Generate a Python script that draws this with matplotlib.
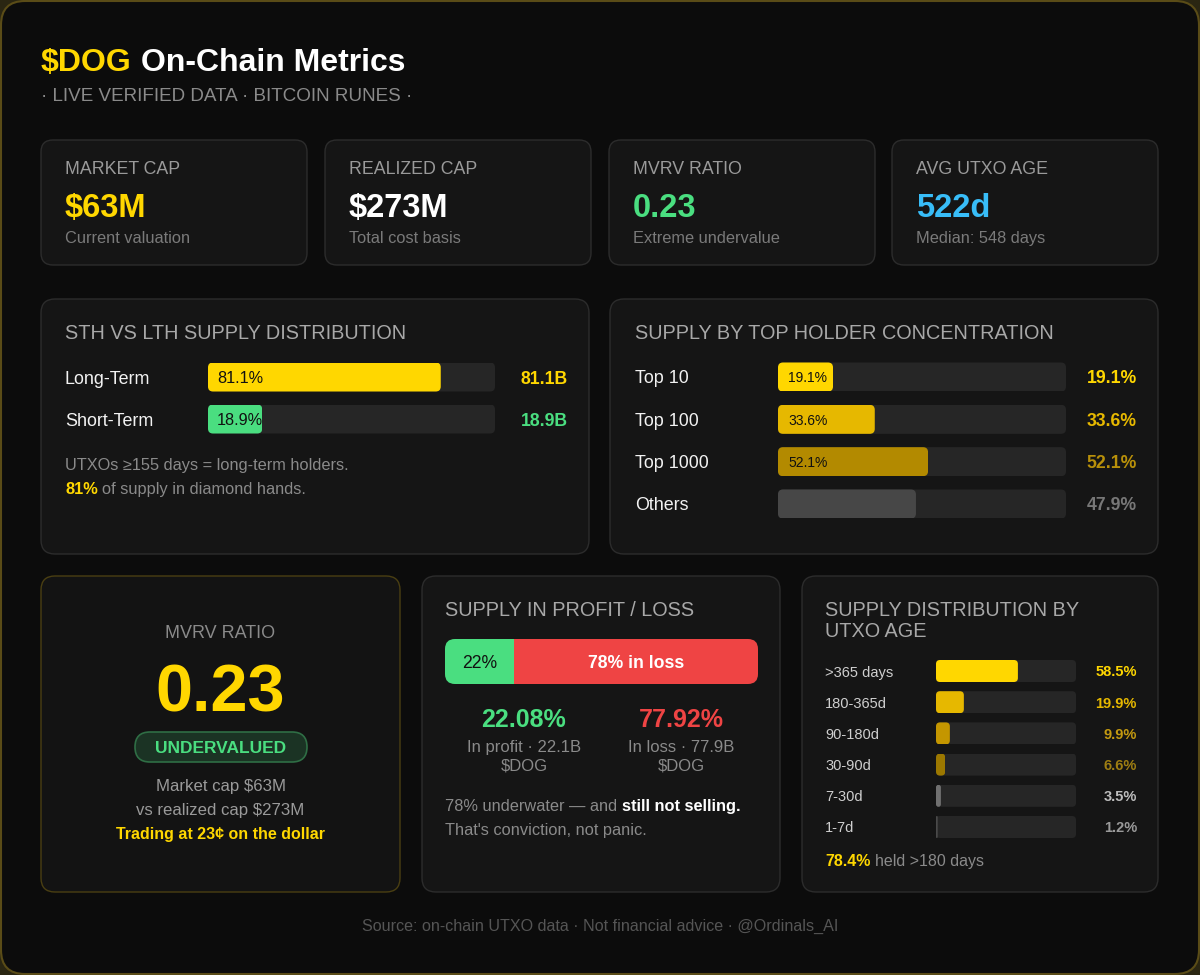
import matplotlib
matplotlib.use("Agg")
import matplotlib.pyplot as plt
from matplotlib.patches import FancyBboxPatch
import matplotlib.transforms as mtransforms

# ---------------- data ----------------
kpi_labels = ["MARKET CAP", "REALIZED CAP", "MVRV RATIO", "AVG UTXO AGE"]
kpi_values = ["$63M", "$273M", "0.23", "522d"]
kpi_notes = ["Current valuation", "Total cost basis", "Extreme undervalue", "Median: 548 days"]

holder_terms = ["Long-Term", "Short-Term"]
holder_pct = [81.1, 18.9]
holder_supply_b = [81.1, 18.9]

top_groups = ["Top 10", "Top 100", "Top 1000", "Others"]
top_pct = [19.1, 33.6, 52.1, 47.9]

profit_pct = 22.08
loss_pct = 77.92
profit_supply_b = 22.1
loss_supply_b = 77.9

age_buckets = [">365 days", "180-365d", "90-180d", "30-90d", "7-30d", "1-7d"]
age_pct = [58.5, 19.9, 9.9, 6.6, 3.5, 1.2]

mvrv = 0.23
market_cap_m = 63
realized_cap_m = 273
held_over_180 = 78.4

# ---------------- style ----------------
GOLD = "#FFD700"
GOLD2 = "#E6B800"
GOLD3 = "#B38A00"
GREEN = "#4ADE80"
RED = "#EF4444"
BLUE = "#38BDF8"
CARD = "#151515"
EDGE = "#2c2c2c"
TRACK = "#262626"
HEAD = 14.3

plt.rcParams['font.family'] = ['Liberation Sans', 'DejaVu Sans']

W, H = 1200, 975
fig = plt.figure(figsize=(12, 9.75), dpi=100, facecolor="#2a2612")
bg = fig.add_axes([0, 0, 1, 1])
bg.set_xlim(0, W)
bg.set_ylim(H, 0)
bg.axis('off')
renderer = fig.canvas.get_renderer()


def box(x0, y0, x1, y1, fc, ec, r=12, lw=1.0):
    p = FancyBboxPatch((x0, y0), x1 - x0, y1 - y0,
                       boxstyle=f"round,pad=0,rounding_size={r}",
                       fc=fc, ec=ec, lw=lw)
    bg.add_patch(p)
    return p


def base(yc, size):
    # baseline from visual cap centre
    return yc + 0.358 * size * 100 / 72


def txt(x, yc, s, size, color, weight='normal', ha='left'):
    return bg.text(x, base(yc, size), s, fontsize=size, color=color,
                   fontweight=weight, ha=ha, va='baseline')


def space_w(size, weight):
    a = bg.text(0, 0, "a a", fontsize=size, fontweight=weight)
    b = bg.text(0, 0, "aa", fontsize=size, fontweight=weight)
    w = a.get_window_extent(renderer).width - b.get_window_extent(renderer).width
    a.remove(); b.remove()
    return w


def rich(x, yc, parts, ha='left'):
    objs = []
    total = 0
    for s, size, color, weight in parts:
        lead = len(s) - len(s.lstrip(' '))
        gap = lead * space_w(size, weight) if lead else 0
        t = bg.text(0, base(yc, size), s.strip(' '), fontsize=size, color=color,
                    fontweight=weight, ha='left', va='baseline')
        w = t.get_window_extent(renderer).width
        objs.append((t, gap, w))
        total += gap + w
    cur = x if ha == 'left' else x - total / 2
    for t, gap, w in objs:
        cur += gap
        t.set_x(cur)
        cur += w


def bar_axes(x0, x1, ytop, ybot, n):
    ax = fig.add_axes([x0 / W, 1 - ybot / H, (x1 - x0) / W, (ybot - ytop) / H])
    ax.set_xlim(0, 100)
    ax.set_ylim(n - 0.5, -0.5)
    ax.axis('off')
    ax.patch.set_visible(False)
    return ax


def round_clip(ax, bars, r_px):
    pos = ax.get_position()
    wpx, hpx = pos.width * W, pos.height * H
    xl, yl = ax.get_xlim(), ax.get_ylim()
    ux = abs(xl[1] - xl[0]) / wpx
    uy = abs(yl[1] - yl[0]) / hpx
    for b in bars:
        x, y = b.get_xy()
        w, h = b.get_width(), b.get_height()
        r = min(r_px, w / ux / 2, abs(h) / uy / 2)
        clip = FancyBboxPatch((x, y), w, h,
                              boxstyle=f"round,pad=0,rounding_size={r * ux}",
                              mutation_aspect=uy / ux, transform=ax.transData)
        b.set_clip_path(clip)


def blend(ax):
    return mtransforms.blended_transform_factory(bg.transData, ax.transData)


# ---------------- frame ----------------
box(1, 1, W - 1, H - 1, "#0c0c0c", "#5a4c17", r=24, lw=1.5)

rich(41, 59.5, [("$DOG", 23, GOLD, 'bold'), (" On-Chain Metrics", 23, "white", 'bold')])
txt(41, 94.5, "· LIVE VERIFIED DATA · BITCOIN RUNES ·", 13.6, "#8a8a8a")

# ---------------- KPI cards ----------------
card_x = [(41, 307), (325, 591), (609, 875), (892, 1158)]
kpi_colors = [GOLD, "white", GREEN, BLUE]
for (x0, x1), lab, val, note, col in zip(card_x, kpi_labels, kpi_values, kpi_notes, kpi_colors):
    box(x0, 140, x1, 265, CARD, EDGE, r=12)
    txt(x0 + 24, 168, lab, 12.8, "#9a9a9a")
    txt(x0 + 24, 205, val, 23.5, col, 'bold')
    txt(x0 + 24, 237, note, 11.8, "#7a7a7a")

# ---------------- STH vs LTH ----------------
box(41, 299, 589, 554, CARD, EDGE, r=14)
txt(65, 332, "STH VS LTH SUPPLY DISTRIBUTION", HEAD, "#a8a8a8")
ax1 = bar_axes(208, 495, 356, 440, len(holder_terms))
ys = list(range(len(holder_terms)))
hh = 29 / 42
tr = ax1.barh(ys, [100] * len(ys), height=hh, color=TRACK, zorder=1)
round_clip(ax1, tr, 5)
hcols = [GOLD, GREEN]
bars = ax1.barh(ys, holder_pct, height=hh, color=hcols, zorder=2)
round_clip(ax1, bars, 5)
for i, (name, p, b, c) in enumerate(zip(holder_terms, holder_pct, holder_supply_b, hcols)):
    ax1.annotate(f"{p}%", (0, i), xytext=(9 * 0.72, 0), textcoords='offset points',
                 va='center_baseline', ha='left', fontsize=11.7, color="#111111", zorder=3)
    ax1.text(65, i, name, transform=blend(ax1), va='center_baseline', ha='left',
             fontsize=12.9, color="#f2f2f2")
    ax1.text(568, i, f"{b}B", transform=blend(ax1), va='center_baseline', ha='right',
             fontsize=12.7, color=c, fontweight='bold')
txt(65, 464, "UTXOs ≥155 days = long-term holders.", 11.8, "#8a8a8a")
rich(65, 488, [(f"{round(holder_pct[0])}%", 11.8, GOLD, 'bold'),
               (" of supply in diamond hands.", 11.8, "#8a8a8a", 'normal')])

# ---------------- Top holders ----------------
box(610, 299, 1158, 554, CARD, EDGE, r=14)
txt(635, 332, "SUPPLY BY TOP HOLDER CONCENTRATION", HEAD, "#a8a8a8")
n2 = len(top_groups)
pitch2 = (504 - 377) / 3
ax2 = bar_axes(778, 1066, 377 - pitch2 / 2, 504 + pitch2 / 2, n2)
ys2 = list(range(n2))
hh2 = 29 / pitch2
tr = ax2.barh(ys2, [100] * n2, height=hh2, color=TRACK, zorder=1)
round_clip(ax2, tr, 5)
tcols = [GOLD, GOLD2, GOLD3, "#474747"]
vcols = [GOLD, GOLD2, "#B8900A", "#777777"]
bars = ax2.barh(ys2, top_pct, height=hh2, color=tcols, zorder=2)
round_clip(ax2, bars, 5)
for i, (name, p, vc) in enumerate(zip(top_groups, top_pct, vcols)):
    if name != "Others":
        ax2.annotate(f"{p}%", (0, i), xytext=(10 * 0.72, 0), textcoords='offset points',
                     va='center_baseline', ha='left', fontsize=10, color="#111111", zorder=3)
    ax2.text(635, i, name, transform=blend(ax2), va='center_baseline', ha='left',
             fontsize=12.9, color="#f2f2f2")
    ax2.text(1137, i, f"{p}%", transform=blend(ax2), va='center_baseline', ha='right',
             fontsize=12.7, color=vc, fontweight='bold')

# ---------------- MVRV big card ----------------
box(41, 576, 400, 892, "#131313", "#4a3f12", r=14)
cx = 220.5
txt(cx, 632, "MVRV RATIO", 13, "#8a8a8a", ha='center')
txt(cx, 688, f"{mvrv:.2f}", 48, GOLD, 'bold', ha='center')
box(135, 732, 307, 762, "#1b3324", "#2f6e45", r=15, lw=1.2)
txt(cx, 747, "UNDERVALUED", 12.5, GREEN, 'bold', ha='center')
txt(cx, 785, f"Market cap ${market_cap_m}M", 12.1, "#9a9a9a", ha='center')
txt(cx, 809, f"vs realized cap ${realized_cap_m}M", 12.1, "#9a9a9a", ha='center')
txt(cx, 833, f"Trading at {round(mvrv * 100)}¢ on the dollar", 11.5, GOLD, 'bold', ha='center')

# ---------------- Profit / Loss ----------------
box(422, 576, 780, 892, CARD, EDGE, r=14)
txt(445, 609, "SUPPLY IN PROFIT / LOSS", HEAD, "#a8a8a8")
ax3 = bar_axes(445, 758, 639, 684, 1)
pb = ax3.barh([0], [profit_pct], height=1.0, color=GREEN, zorder=2)
lb = ax3.barh([0], [loss_pct], left=[profit_pct], height=1.0, color=RED, zorder=2)
pos = ax3.get_position()
ux3 = 100 / (pos.width * W)
uy3 = 1 / (pos.height * H)
clip3 = FancyBboxPatch((0, -0.5), 100, 1.0, boxstyle=f"round,pad=0,rounding_size={10 * ux3}",
                       mutation_aspect=uy3 / ux3, transform=ax3.transData)
for b in list(pb) + list(lb):
    b.set_clip_path(clip3)
ax3.text(profit_pct / 2, 0, f"{round(profit_pct)}%", ha='center', va='center_baseline',
         fontsize=12.7, color="#111111", zorder=3)
ax3.text(profit_pct + loss_pct / 2, 0, f"{round(loss_pct)}% in loss", ha='center',
         va='center_baseline', fontsize=12.7, color="white", fontweight='bold', zorder=3)
txt(524, 718, f"{profit_pct:.2f}%", 18, GREEN, 'bold', ha='center')
txt(681, 718, f"{loss_pct:.2f}%", 18, RED, 'bold', ha='center')
txt(524, 746, f"In profit · {profit_supply_b}B", 12, "#8a8a8a", ha='center')
txt(524, 765, "$DOG", 12, "#8a8a8a", ha='center')
txt(681, 746, f"In loss · {loss_supply_b}B", 12, "#8a8a8a", ha='center')
txt(681, 765, "$DOG", 12, "#8a8a8a", ha='center')
rich(445, 805, [(f"{round(loss_pct)}% underwater — and", 11.8, "#8a8a8a", 'normal'),
                (" still not selling.", 11.8, "white", 'bold')])
txt(445, 829, "That's conviction, not panic.", 11.8, "#8a8a8a")

# ---------------- UTXO age ----------------
box(802, 576, 1158, 892, CARD, EDGE, r=14)
txt(825, 609, "SUPPLY DISTRIBUTION BY", HEAD, "#a8a8a8")
txt(825, 630, "UTXO AGE", HEAD, "#a8a8a8")
n4 = len(age_buckets)
pitch4 = (827 - 671) / (n4 - 1)
ax4 = bar_axes(936, 1076, 671 - pitch4 / 2, 827 + pitch4 / 2, n4)
ys4 = list(range(n4))
hh4 = 22 / pitch4
tr = ax4.barh(ys4, [100] * n4, height=hh4, color=TRACK, zorder=1)
round_clip(ax4, tr, 4)
acols = [GOLD, GOLD2, "#C49600", "#9C7800", "#707070", "#4a4a4a"]
avcols = [GOLD, GOLD2, "#C49A10", "#9E7E12", "#bdbdbd", "#9a9a9a"]
bars = ax4.barh(ys4, age_pct, height=hh4, color=acols, zorder=2)
round_clip(ax4, bars, 4)
for i, (name, p, vc) in enumerate(zip(age_buckets, age_pct, avcols)):
    ax4.text(825, i, name, transform=blend(ax4), va='center_baseline', ha='left',
             fontsize=10.5, color="#cfcfcf")
    ax4.text(1137, i, f"{p}%", transform=blend(ax4), va='center_baseline', ha='right',
             fontsize=10.5, color=vc, fontweight='bold')
rich(825, 860, [(f"{held_over_180}%", 11.5, GOLD, 'bold'),
                (" held >180 days", 11.5, "#8a8a8a", 'normal')])

# ---------------- footer ----------------
txt(600, 925, "Source: on-chain UTXO data · Not financial advice · @Ordinals_AI", 11.6, "#555555", ha='center')

fig.savefig("out.png", dpi=100, facecolor=fig.get_facecolor())
